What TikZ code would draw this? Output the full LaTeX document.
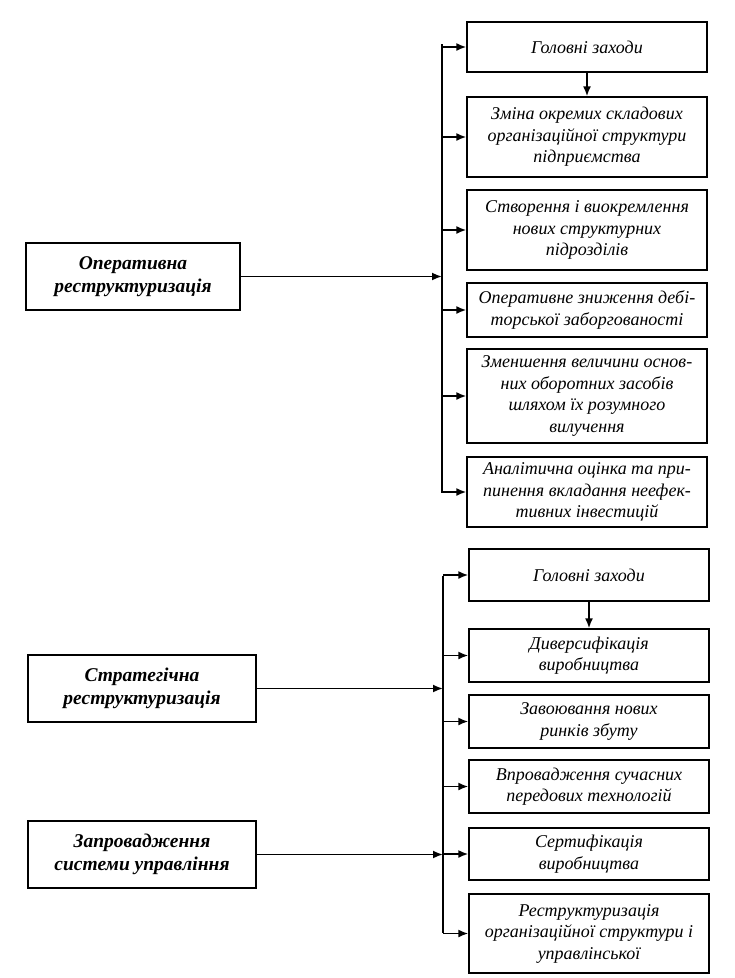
\documentclass[tikz,border=0pt]{standalone}
\usepackage{fontspec}
\setmainfont{Liberation Serif}
\usetikzlibrary{arrows.meta}
\begin{document}
\begin{tikzpicture}[x=1pt,y=-1pt,
  box/.style={draw,line width=1.3pt,minimum width=240pt,inner sep=2pt,align=center,
    font=\fontsize{18}{21.5}\selectfont\itshape},
  lbox/.style={draw,line width=1.3pt,inner sep=2pt,align=center,
    font=\fontsize{19.5}{23}\selectfont\bfseries\itshape},
  arr/.style={line width=1.8pt,-{Latex[length=10pt,width=8pt]}},
  bus/.style={line width=1.8pt}]
\useasboundingbox (0,0) rectangle (735,978);
% top group
\node[box,minimum height=50pt] (b1) at (587,47) {Головні заходи};
\node[box,minimum height=80pt] (b2) at (587,137) {Зміна окремих складових\\організаційної структури\\підприємства};
\node[box,minimum height=80pt] (b3) at (587,230) {Створення і виокремлення\\нових структурних\\підрозділів};
\node[box,minimum height=54pt] (b4) at (587,310) {Оперативне зниження дебі-\\торської заборгованості};
\node[box,minimum height=94pt] (b5) at (587,396) {Зменшення величини основ-\\них оборотних засобів\\шляхом їх розумного\\вилучення};
\node[box,minimum height=70pt] (b6) at (587,492) {Аналітична оцінка та при-\\пинення вкладання неефек-\\тивних інвестицій};
% bottom group
\node[box,minimum height=52pt] (c1) at (589,575) {Головні заходи};
\node[box,minimum height=53pt] (c2) at (589,655.5) {Диверсифікація\\виробництва};
\node[box,minimum height=53pt] (c3) at (589,721.5) {Завоювання нових\\ринків збуту};
\node[box,minimum height=53pt] (c4) at (589,786.5) {Впровадження сучасних\\передових технологій};
\node[box,minimum height=52pt] (c5) at (589,854) {Сертифікація\\виробництва};
\node[box,minimum height=79pt] (c6) at (589,933.5) {Реструктуризація\\організаційної структури і\\управлінської};
% left boxes
\node[lbox,minimum width=214pt,minimum height=67pt] (l1) at (133,276.5) {Оперативна\\реструктуризація};
\node[lbox,minimum width=228pt,minimum height=67pt] (l2) at (142,688.5) {Стратегічна\\реструктуризація};
\node[lbox,minimum width=228pt,minimum height=67pt] (l3) at (142,854.5) {Запровадження\\системи управління};
% buses
\coordinate (ta) at (442,44);
\coordinate (tb) at (442,493);
\coordinate (ba) at (443,576);
\coordinate (bb) at (443,933);
\draw[bus] (ta) -- (tb);
\draw[bus] (ba) -- (bb);
\foreach \n in {b1,b2,b3,b4,b5,b6}{\draw[arr] (ta |- \n.west) -- (\n.west);}
\foreach \n in {c1,c2,c3,c4,c5,c6}{\draw[arr] (ba |- \n.west) -- (\n.west);}
\draw[arr] (l1.east) -- (ta |- l1.east);
\draw[arr] (l2.east) -- (ba |- l2.east);
\draw[arr] (l3.east) -- (ba |- l3.east);
\draw[arr] (b1.south) -- (b2.north);
\draw[arr] (c1.south) -- (c2.north);
\end{tikzpicture}
\end{document}
